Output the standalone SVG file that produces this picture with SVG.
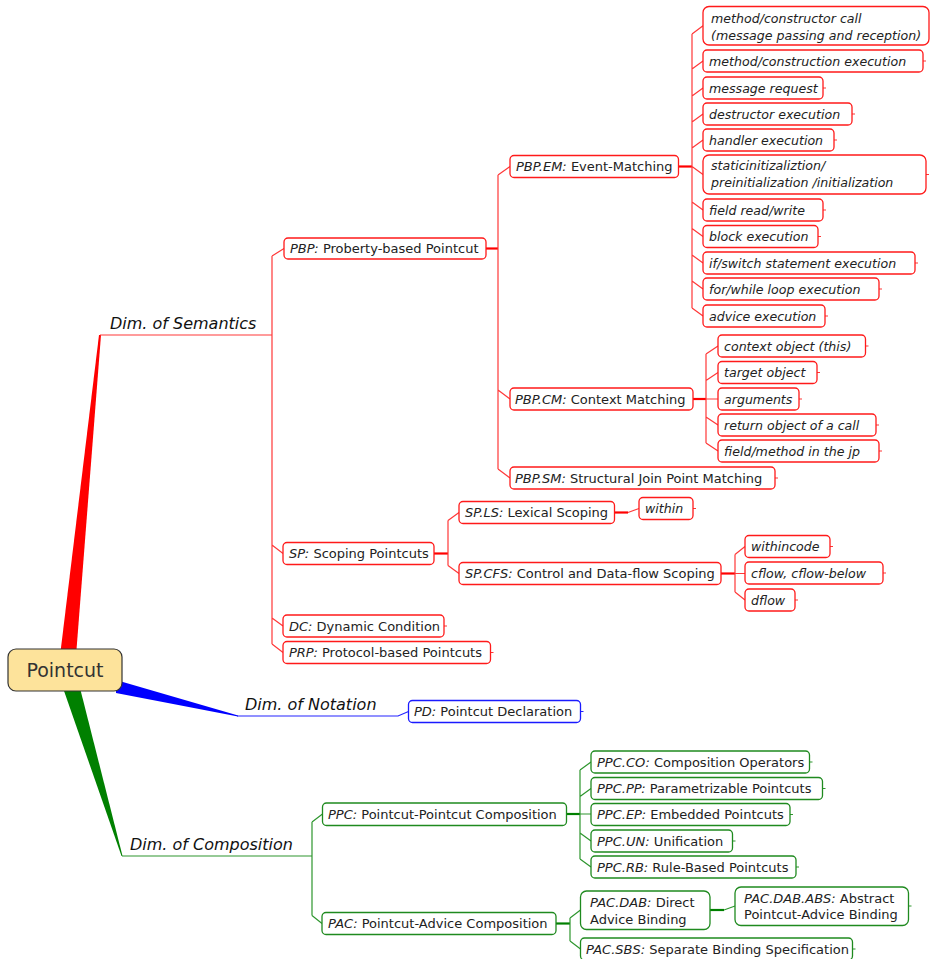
<svg xmlns="http://www.w3.org/2000/svg" width="930" height="959" viewBox="0 0 930 959">
  <style>
    .t { font-family: "DejaVu Sans", Verdana, sans-serif; font-size: 13px; fill: #222; }
    .l { font-family: "DejaVu Sans", Verdana, sans-serif; font-size: 12.6px; font-style: italic; fill: #222; }
    .i { font-style: italic; }
    .dim { font-family: "DejaVu Sans", Verdana, sans-serif; font-size: 16px; font-style: italic; fill: #111; }
    .root-t { font-family: "DejaVu Sans", Verdana, sans-serif; font-size: 19px; fill: #333; }
    .br { fill: #fff; stroke: #ff1a1a; stroke-width: 1.3; }
    .bb { fill: #fff; stroke: #1a1aff; stroke-width: 1.3; }
    .bg { fill: #fff; stroke: #1f8a1f; stroke-width: 1.3; }
    .cr { fill: none; stroke: #ff3838; stroke-width: 1.2; }
    .cb { fill: none; stroke: #2424ff; stroke-width: 1.2; }
    .cg { fill: none; stroke: #2e962e; stroke-width: 1.2; }
    .kr { fill: none; stroke: #f00; stroke-width: 2.2; }
    .kg { fill: none; stroke: #008000; stroke-width: 2.2; }
  </style>

  <!-- main branches from the root -->
  <g id="branches">
    <polygon points="60,656 76,656 101,335 99,335" fill="#f00"/>
    <polygon points="116,680 116,693 238,716.6 238,715.4" fill="#00f"/>
    <polygon points="63,688 80,688 122.5,856 121.5,856" fill="#008000"/>
  </g>

  <g id="connectors">
    <!-- semantics -->
    <path class="cr" d="M100,335 H272 M272,256 V644 M272,256 L284,248.5 M272,545 L283,553.5 M272,618 L283,626 M272,644 L283,652.5"/>
    <path class="kr" d="M486,248.5 H498"/>
    <path class="cr" d="M498,175 V469 M498,175 L510,166.5 M498,390 L510,399 M498,469 L510,478"/>
    <path class="kr" d="M678.5,166.5 H692"/>
    <path class="cr" d="M692,34 V308 M692,34 L703,25.75 M692,69 L703,61 M692,96 L703,88 M692,122 L703,114 M692,148 L703,140 M692,166.5 L703,174.5 M692,202 L703,210 M692,228.5 L703,236.5 M692,255 L703,263 M692,281 L703,289 M692,308 L703,316"/>
    <path class="kr" d="M693,399 H706"/>
    <path class="cr" d="M706,354 V443 M706,354 L718,346 M706,380.5 L718,372.5 M706,399 H718 M706,417 L718,425 M706,443 L718,451"/>
    <path class="kr" d="M434,553.5 H448"/>
    <path class="cr" d="M448,520.5 V565.5 M448,520.5 L459,512.5 M448,565.5 L459,573.5"/>
    <path class="kr" d="M614.5,512.5 H628"/>
    <path class="cr" d="M628,512.5 L639,508.5"/>
    <path class="kr" d="M721,573.5 H735"/>
    <path class="cr" d="M735,554.5 V592 M735,554.5 L745,546.5 M735,573.5 H745 M735,592 L745,600"/>
    <!-- leaf stubs -->
    <path class="cr" d="M923,61 h3 M823,88 h3 M852,114 h3 M834,140 h3 M926,174.5 h3 M823,210 h3 M818,236.5 h3 M915,263 h3 M879,289 h3 M825,316 h3 M865.5,346 h3 M817,372.5 h3 M799,399 h3 M876,425 h3 M879,451 h3 M775,478 h3 M693,508.5 h3 M830,546.5 h3 M883,573 h3 M795,600 h3 M444,626 h3 M490.5,652.5 h3"/>

    <!-- notation -->
    <path class="cb" d="M237,716 H398 L408.5,711.5 M580.5,711.5 h3"/>

    <!-- composition -->
    <path class="cg" d="M122,856 H312 M312,822 V915.5 M312,822 L322.5,814 M312,915.5 L322,923.5"/>
    <path class="kg" d="M566.5,814 H580"/>
    <path class="cg" d="M580,770 V859 M580,770 L591,762 M580,796.5 L591,788.5 M580,814 H591 M580,833 L591,841 M580,859 L591,867"/>
    <path class="kg" d="M556,923.5 H570"/>
    <path class="cg" d="M570,918 V941 M570,918 L580.5,910 M570,941 L580.5,949"/>
    <path class="kg" d="M710,910 H724"/>
    <path class="cg" d="M724,910 L735,906"/>
    <path class="cg" d="M809.5,762 h3 M822.5,788.5 h3 M790,814.5 h3 M732.5,841 h3 M796,867 h3 M908.5,906 h3 M852.5,949 h3"/>
  </g>

  <g id="root">
    <rect x="8" y="649" width="114" height="42" rx="8" fill="#fde39b" stroke="#333" stroke-width="1.2"/>
    <text class="root-t" x="65" y="677" text-anchor="middle">Pointcut</text>
  </g>

  <g id="dim-semantics"><text class="dim" x="110" y="329">Dim. of Semantics</text></g>
  <g id="dim-notation"><text class="dim" x="245" y="710">Dim. of Notation</text></g>
  <g id="dim-composition"><text class="dim" x="130" y="850">Dim. of Composition</text></g>

  <!-- semantics nodes -->
  <g id="pbp"><rect class="br" x="284" y="238" width="202" height="21" rx="4"/><text class="t" x="290" y="253"><tspan class="i">PBP:</tspan> Proberty-based Pointcut</text></g>
  <g id="pbp-em"><rect class="br" x="510" y="155.5" width="168.5" height="22" rx="4"/><text class="t" x="516" y="171"><tspan class="i">PBP.EM:</tspan> Event-Matching</text></g>
  <g id="em-call"><rect class="br" x="703" y="6.5" width="226" height="38.5" rx="6"/><text class="l" x="711" y="22.5">method/constructor call</text><text class="l" x="711" y="39.5">(message passing and reception)</text></g>
  <g id="em-exec"><rect class="br" x="703" y="50" width="220" height="22" rx="4"/><text class="l" x="709" y="65.5">method/construction execution</text></g>
  <g id="em-request"><rect class="br" x="703" y="77" width="120" height="22" rx="4"/><text class="l" x="709" y="92.5">message request</text></g>
  <g id="em-destructor"><rect class="br" x="703" y="103" width="149" height="22" rx="4"/><text class="l" x="709" y="118.5">destructor execution</text></g>
  <g id="em-handler"><rect class="br" x="703" y="129" width="131" height="22" rx="4"/><text class="l" x="709" y="144.5">handler execution</text></g>
  <g id="em-init"><rect class="br" x="703" y="155" width="223" height="39" rx="6"/><text class="l" x="711" y="170">staticinitizaliztion/</text><text class="l" x="711" y="187">preinitialization /initialization</text></g>
  <g id="em-field"><rect class="br" x="703" y="199" width="120" height="22" rx="4"/><text class="l" x="709" y="214.5">field read/write</text></g>
  <g id="em-block"><rect class="br" x="703" y="225.5" width="115" height="22" rx="4"/><text class="l" x="709" y="241">block execution</text></g>
  <g id="em-if"><rect class="br" x="703" y="252" width="212" height="22" rx="4"/><text class="l" x="709" y="267.5">if/switch statement execution</text></g>
  <g id="em-loop"><rect class="br" x="703" y="278" width="176" height="22" rx="4"/><text class="l" x="709" y="293.5">for/while loop execution</text></g>
  <g id="em-advice"><rect class="br" x="703" y="305" width="122" height="22" rx="4"/><text class="l" x="709" y="320.5">advice execution</text></g>

  <g id="pbp-cm"><rect class="br" x="510" y="388" width="183" height="22" rx="4"/><text class="t" x="515" y="403.5"><tspan class="i">PBP.CM:</tspan> Context Matching</text></g>
  <g id="cm-this"><rect class="br" x="718" y="335" width="147.5" height="22" rx="4"/><text class="l" x="724" y="350.5">context object (this)</text></g>
  <g id="cm-target"><rect class="br" x="718" y="361.5" width="99" height="22" rx="4"/><text class="l" x="724" y="377">target object</text></g>
  <g id="cm-args"><rect class="br" x="718" y="388" width="81" height="22" rx="4"/><text class="l" x="724" y="403.5">arguments</text></g>
  <g id="cm-return"><rect class="br" x="718" y="414" width="158" height="22" rx="4"/><text class="l" x="724" y="429.5">return object of a call</text></g>
  <g id="cm-jp"><rect class="br" x="718" y="440" width="161" height="22" rx="4"/><text class="l" x="724" y="455.5">field/method in the jp</text></g>
  <g id="pbp-sm"><rect class="br" x="510" y="467" width="265" height="22" rx="4"/><text class="t" x="515" y="482.5"><tspan class="i">PBP.SM:</tspan> Structural Join Point Matching</text></g>

  <g id="sp"><rect class="br" x="283" y="542.5" width="151" height="22" rx="4"/><text class="t" x="289" y="558"><tspan class="i">SP:</tspan> Scoping Pointcuts</text></g>
  <g id="sp-ls"><rect class="br" x="459" y="501.5" width="155.5" height="22" rx="4"/><text class="t" x="465" y="517"><tspan class="i">SP.LS:</tspan> Lexical Scoping</text></g>
  <g id="ls-within"><rect class="br" x="639" y="497.5" width="54" height="22" rx="4"/><text class="l" x="645" y="513">within</text></g>
  <g id="sp-cfs"><rect class="br" x="459" y="562.5" width="262" height="22" rx="4"/><text class="t" x="465" y="578"><tspan class="i">SP.CFS:</tspan> Control and Data-flow Scoping</text></g>
  <g id="cfs-withincode"><rect class="br" x="745" y="535.5" width="85" height="22" rx="4"/><text class="l" x="751" y="551">withincode</text></g>
  <g id="cfs-cflow"><rect class="br" x="745" y="562" width="138" height="22" rx="4"/><text class="l" x="751" y="577.5">cflow, cflow-below</text></g>
  <g id="cfs-dflow"><rect class="br" x="745" y="589" width="50" height="22" rx="4"/><text class="l" x="751" y="604.5">dflow</text></g>
  <g id="dc"><rect class="br" x="283" y="615" width="161" height="22" rx="4"/><text class="t" x="289" y="630.5"><tspan class="i">DC:</tspan> Dynamic Condition</text></g>
  <g id="prp"><rect class="br" x="283" y="641.5" width="207.5" height="22" rx="4"/><text class="t" x="289" y="657"><tspan class="i">PRP:</tspan> Protocol-based Pointcuts</text></g>

  <!-- notation nodes -->
  <g id="pd"><rect class="bb" x="408.5" y="700.5" width="172" height="22" rx="4"/><text class="t" x="414" y="716"><tspan class="i">PD:</tspan> Pointcut Declaration</text></g>

  <!-- composition nodes -->
  <g id="ppc"><rect class="bg" x="322.5" y="803" width="244" height="22.5" rx="4"/><text class="t" x="328" y="818.5"><tspan class="i">PPC:</tspan> Pointcut-Pointcut Composition</text></g>
  <g id="ppc-co"><rect class="bg" x="591" y="751" width="218.5" height="22" rx="4"/><text class="t" x="597" y="766.5"><tspan class="i">PPC.CO:</tspan> Composition Operators</text></g>
  <g id="ppc-pp"><rect class="bg" x="591" y="777.5" width="231.5" height="22" rx="4"/><text class="t" x="597" y="793"><tspan class="i">PPC.PP:</tspan> Parametrizable Pointcuts</text></g>
  <g id="ppc-ep"><rect class="bg" x="591" y="803.5" width="199" height="22" rx="4"/><text class="t" x="597" y="819"><tspan class="i">PPC.EP:</tspan> Embedded Pointcuts</text></g>
  <g id="ppc-un"><rect class="bg" x="591" y="830" width="141.5" height="22" rx="4"/><text class="t" x="597" y="845.5"><tspan class="i">PPC.UN:</tspan> Unification</text></g>
  <g id="ppc-rb"><rect class="bg" x="591" y="856" width="205" height="22" rx="4"/><text class="t" x="597" y="871.5"><tspan class="i">PPC.RB:</tspan> Rule-Based Pointcuts</text></g>
  <g id="pac"><rect class="bg" x="322" y="912.5" width="234" height="22" rx="4"/><text class="t" x="328" y="928"><tspan class="i">PAC:</tspan> Pointcut-Advice Composition</text></g>
  <g id="pac-dab"><rect class="bg" x="580.5" y="891" width="129.5" height="38.5" rx="6"/><text class="t" x="590" y="907"><tspan class="i">PAC.DAB:</tspan> Direct</text><text class="t" x="590" y="924">Advice Binding</text></g>
  <g id="pac-dab-abs"><rect class="bg" x="735" y="887" width="173.5" height="38.5" rx="6"/><text class="t" x="744" y="903"><tspan class="i">PAC.DAB.ABS:</tspan> Abstract</text><text class="t" x="744" y="919">Pointcut-Advice Binding</text></g>
  <g id="pac-sbs"><rect class="bg" x="580.5" y="938" width="272" height="22" rx="4"/><text class="t" x="586" y="953.5"><tspan class="i">PAC.SBS:</tspan> Separate Binding Specification</text></g>
</svg>
